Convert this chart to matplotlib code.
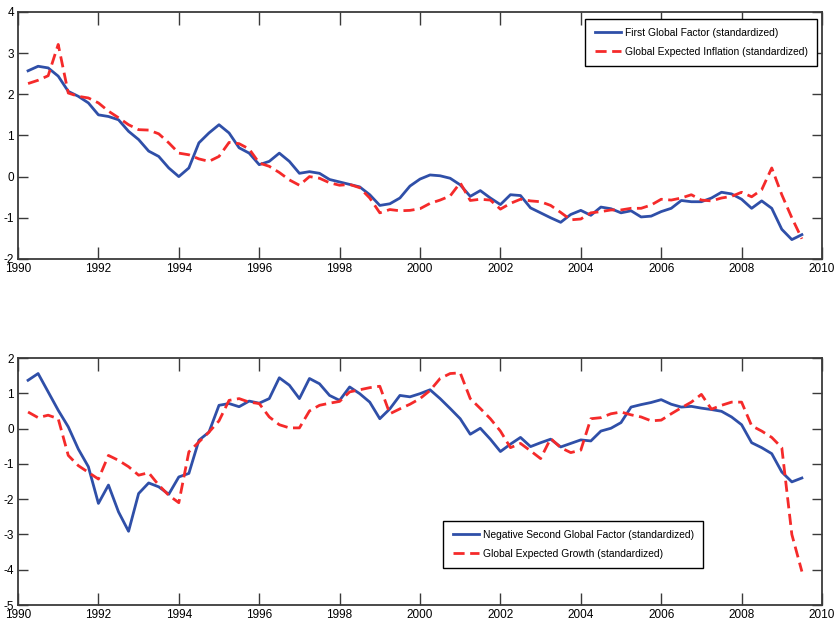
import numpy as np
from matplotlib import pyplot as plt
from matplotlib import font_manager

# narrow face like the MATLAB export, if there is one
installed = {f.name for f in font_manager.fontManager.ttflist}
if 'Liberation Sans Narrow' in installed:
    plt.rcParams['font.family'] = ['Liberation Sans Narrow', 'DejaVu Sans']
    TICK_SIZE, LEG_SIZE = 10, 8.8
else:
    plt.rcParams['font.family'] = ['Liberation Sans', 'DejaVu Sans']
    TICK_SIZE, LEG_SIZE = 8.5, 7.4
plt.rcParams['axes.unicode_minus'] = False

# quarterly observations, 1990Q2 .. 2009Q3
quarters = np.arange(1990.25, 2009.5 + 0.01, 0.25)

first_factor = [2.57, 2.68, 2.64,
                2.44, 2.07, 1.95, 1.79,
                1.50, 1.46, 1.38, 1.10,
                0.90, 0.62, 0.49, 0.21,
                0.00, 0.21, 0.82, 1.06,
                1.26, 1.06, 0.70, 0.57,
                0.29, 0.37, 0.57, 0.37,
                0.08, 0.12, 0.08, -0.07,
                -0.13, -0.19, -0.25, -0.44,
                -0.70, -0.66, -0.52, -0.23,
                -0.06, 0.04, 0.02, -0.04,
                -0.20, -0.48, -0.34, -0.52,
                -0.68, -0.44, -0.46, -0.76,
                -0.88, -1.00, -1.11, -0.92,
                -0.82, -0.94, -0.74, -0.78,
                -0.88, -0.83, -0.98, -0.96,
                -0.85, -0.77, -0.58, -0.61,
                -0.61, -0.52, -0.38, -0.42,
                -0.55, -0.77, -0.59, -0.77,
                -1.28, -1.53, -1.41]

exp_inflation = [2.26, 2.34, 2.45,
                 3.21, 2.03, 1.95, 1.91,
                 1.79, 1.59, 1.43, 1.26,
                 1.14, 1.13, 1.04, 0.82,
                 0.57, 0.53, 0.43, 0.37,
                 0.49, 0.83, 0.80, 0.67,
                 0.33, 0.25, 0.10, -0.08,
                 -0.21, 0.00, -0.04, -0.15,
                 -0.21, -0.19, -0.27, -0.52,
                 -0.88, -0.80, -0.83, -0.82,
                 -0.78, -0.65, -0.57, -0.47,
                 -0.15, -0.58, -0.55, -0.57,
                 -0.79, -0.65, -0.55, -0.59,
                 -0.61, -0.70, -0.87, -1.05,
                 -1.03, -0.88, -0.85, -0.81,
                 -0.81, -0.77, -0.77, -0.69,
                 -0.55, -0.57, -0.52, -0.44,
                 -0.57, -0.59, -0.52, -0.48,
                 -0.38, -0.49, -0.32, 0.21,
                 -0.44, -1.00, -1.51]

neg_second_factor = [1.37, 1.56, 1.04,
                     0.52, 0.05, -0.58, -1.08,
                     -2.12, -1.60, -2.36, -2.91,
                     -1.84, -1.54, -1.65, -1.86,
                     -1.37, -1.27, -0.33, -0.10,
                     0.66, 0.71, 0.62, 0.78,
                     0.72, 0.85, 1.44, 1.23,
                     0.85, 1.42, 1.27, 0.94,
                     0.80, 1.18, 0.99, 0.75,
                     0.28, 0.56, 0.94, 0.90,
                     0.99, 1.10, 0.85, 0.57,
                     0.28, -0.16, 0.01, -0.30,
                     -0.65, -0.44, -0.25, -0.51,
                     -0.40, -0.30, -0.52, -0.42,
                     -0.32, -0.35, -0.07, 0.01,
                     0.17, 0.61, 0.68, 0.74,
                     0.82, 0.69, 0.61, 0.63,
                     0.58, 0.54, 0.49, 0.33,
                     0.11, -0.40, -0.54, -0.71,
                     -1.23, -1.51, -1.40]

exp_growth = [0.47, 0.31, 0.38,
              0.28, -0.76, -1.05, -1.24,
              -1.43, -0.76, -0.90, -1.08,
              -1.32, -1.25, -1.60, -1.89,
              -2.10, -0.66, -0.38, -0.10,
              0.22, 0.80, 0.85, 0.75,
              0.71, 0.33, 0.11, 0.02,
              0.02, 0.50, 0.66, 0.72,
              0.77, 1.04, 1.10, 1.16,
              1.20, 0.42, 0.56, 0.69,
              0.85, 1.08, 1.42, 1.56,
              1.58, 0.85, 0.57, 0.28,
              -0.07, -0.54, -0.42, -0.63,
              -0.85, -0.28, -0.54, -0.68,
              -0.61, 0.28, 0.31, 0.42,
              0.47, 0.39, 0.33, 0.22,
              0.24, 0.42, 0.59, 0.75,
              0.97, 0.55, 0.66, 0.75,
              0.75, 0.08, -0.07, -0.25,
              -0.54, -3.00, -4.05]

year_ticks = list(range(1990, 2011, 2))

BLUE = '#2f4fa8'
RED = '#f52a2a'
EDGE = '#3a3a3a'
DASH = (0, (4, 2))


def style_axes(ax, ylim):
    """MATLAB-like box axes with inward ticks on all four sides."""
    ax.set_xlim(1990, 2010)
    ax.set_ylim(*ylim)
    ax.set_xticks(year_ticks)
    ax.set_yticks(range(ylim[0], ylim[1] + 1))
    for sp in ax.spines.values():
        sp.set_color(EDGE)
        sp.set_linewidth(1.3)
    ax.tick_params(axis='x', direction='in', length=9, width=1.0, color=EDGE,
                   top=True, labelsize=TICK_SIZE, pad=3)
    ax.tick_params(axis='y', direction='in', length=7, width=1.0, color=EDGE,
                   right=True, labelsize=TICK_SIZE, pad=3)


def add_legend(ax, loc, anchor):
    leg = ax.legend(loc=loc, bbox_to_anchor=anchor, fontsize=LEG_SIZE,
                    fancybox=False, edgecolor='black', framealpha=1, handlelength=2.6,
                    handletextpad=0.35, borderpad=0.9, labelspacing=0.85, borderaxespad=0)
    leg.get_frame().set_linewidth(1.0)
    return leg


fig = plt.figure(figsize=(8.34, 6.27), dpi=100)
ax1 = fig.add_axes([0.0216, 0.587, 0.964, 0.394])
ax2 = fig.add_axes([0.0216, 0.035, 0.964, 0.394])

ax1.plot(quarters, first_factor, color=BLUE, lw=2.0,
         label='First Global Factor (standardized)')
ax1.plot(quarters, exp_inflation, color=RED, lw=2.0, ls=DASH,
         label='Global Expected Inflation (standardized)')
style_axes(ax1, (-2, 4))
add_legend(ax1, 'upper right', (0.994, 0.972))

ax2.plot(quarters, neg_second_factor, color=BLUE, lw=2.0,
         label='Negative Second Global Factor (standardized)')
ax2.plot(quarters, exp_growth, color=RED, lw=2.0, ls=DASH,
         label='Global Expected Growth (standardized)')
style_axes(ax2, (-5, 2))
add_legend(ax2, 'lower left', (0.529, 0.15))

fig.savefig('out.png', dpi=100)
